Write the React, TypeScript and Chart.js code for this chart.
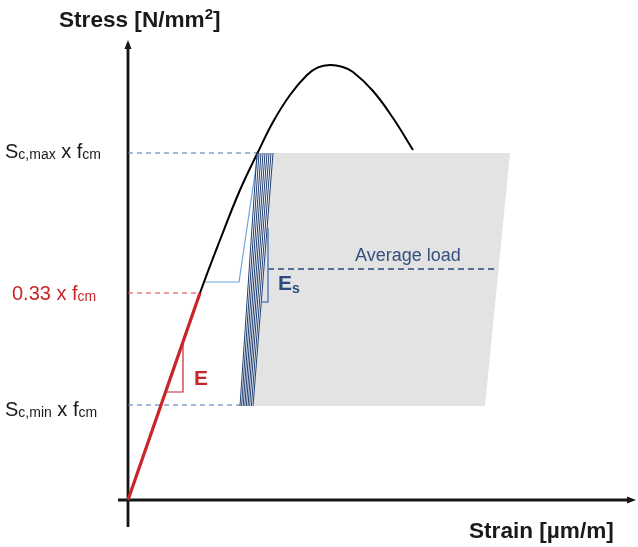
import { useEffect, useRef } from "react";
import { Chart, registerables } from "chart.js";

Chart.register(...registerables);

// Schematic stress–strain curve (strain in µm/m, stress in N/mm²)
const curveStrain = [0, 180, 360, 460, 560, 650, 725, 810, 895, 950, 1010, 1070, 1125, 1225, 1325, 1425];
const curveStress = [0, 10.4, 20.7, 26, 31, 34.8, 37.8, 40.5, 42.5, 43.26, 43.5, 43.32, 42.8, 40.9, 38.2, 35];

// Stress levels of the cyclic test
const sMax = 34.7;
const sMid = 20.7;
const sMin = 9.5;
const avgLoad = 23.1;

// Initial elastic branch (modulus E)
const eLineStrain = [0, 360];
const eLineStress = [0, 20.7];
const eTriStrain = [195, 275, 275];
const eTriStress = [10.8, 10.8, 15.8];

// First load cycle
const firstLoadStrain = [385, 555, 650];
const firstLoadStress = [21.8, 21.8, 34.7];

// Hysteresis loops between the lower and upper stress
const loopBottomStrain = [560, 568, 576, 584, 592, 600, 608, 617, 625];
const loopTopStrain = [645, 655, 665, 675, 685, 695, 705, 715, 725];
const loopBottomStress = 9.4;

// Secant modulus bracket (Es)
const esStrain = [670, 700, 700];
const esStress = [19.8, 19.8, 27.2];

// Cyclic region
const boxStrain = [725, 1910, 1785, 625];
const boxStress = [34.7, 34.7, 9.4, 9.4];

// Dashed reference lines
const avgLoadStrain = [700, 1845];
const maxGuideEnd = 650;
const midGuideEnd = 360;
const minGuideEnd = 560;

const FF = '"Liberation Sans", Arial, Helvetica, sans-serif';
const NAVY = "#2b4a7e";
const RED = "#c8262b";

const zip = (xs: number[], ys: number[]) => xs.map((x, i) => ({ x, y: ys[i] }));

type Run = { t: string; font: string; dy?: number };

function drawRuns(ctx: CanvasRenderingContext2D, x: number, y: number, runs: Run[], color: string) {
  let cx = x;
  ctx.fillStyle = color;
  ctx.textBaseline = "alphabetic";
  ctx.textAlign = "left";
  for (const r of runs) {
    ctx.font = r.font;
    ctx.fillText(r.t, cx, y + (r.dy || 0));
    cx += ctx.measureText(r.t).width;
  }
}

const backdropPlugin = {
  id: "backdrop",
  beforeDatasetsDraw(chart: any) {
    const { ctx, scales } = chart;
    const xs = scales.x;
    const ys = scales.y;
    ctx.save();
    // grey cyclic region
    ctx.fillStyle = "#e3e3e3";
    ctx.beginPath();
    boxStrain.forEach((v, i) => {
      const px = xs.getPixelForValue(v);
      const py = ys.getPixelForValue(boxStress[i]);
      if (i === 0) ctx.moveTo(px, py);
      else ctx.lineTo(px, py);
    });
    ctx.closePath();
    ctx.fill();

    // axes with arrow heads
    const x0 = xs.getPixelForValue(0);
    const y0 = ys.getPixelForValue(0);
    const xEnd = xs.getPixelForValue(xs.max);
    const yEnd = ys.getPixelForValue(ys.max);
    ctx.strokeStyle = "#151515";
    ctx.fillStyle = "#151515";
    ctx.lineWidth = 2.8;
    ctx.beginPath();
    ctx.moveTo(x0, y0 + 27);
    ctx.lineTo(x0, yEnd + 6);
    ctx.moveTo(x0 - 10, y0);
    ctx.lineTo(xEnd - 6, y0);
    ctx.stroke();
    ctx.beginPath();
    ctx.moveTo(x0, yEnd);
    ctx.lineTo(x0 - 3.5, yEnd + 9);
    ctx.lineTo(x0 + 3.5, yEnd + 9);
    ctx.closePath();
    ctx.fill();
    ctx.beginPath();
    ctx.moveTo(xEnd, y0);
    ctx.lineTo(xEnd - 9, y0 - 3.5);
    ctx.lineTo(xEnd - 9, y0 + 3.5);
    ctx.closePath();
    ctx.fill();
    ctx.restore();
  },
};

const labelPlugin = {
  id: "labels",
  afterDatasetsDraw(chart: any) {
    const { ctx, scales } = chart;
    const xs = scales.x;
    const ys = scales.y;
    const main = `20px ${FF}`;
    const sub = `14px ${FF}`;
    ctx.save();

    drawRuns(ctx, 59, 27, [
      { t: "Stress [N/mm", font: `bold 22.6px ${FF}` },
      { t: "2", font: `bold 15px ${FF}`, dy: -8 },
      { t: "]", font: `bold 22.6px ${FF}` },
    ], "#1a1a1a");
    drawRuns(ctx, 469, 538, [{ t: "Strain [µm/m]", font: `bold 22.6px ${FF}` }], "#1a1a1a");

    drawRuns(ctx, 5, ys.getPixelForValue(sMax) + 5, [
      { t: "S", font: main },
      { t: "c,max", font: sub, dy: 1 },
      { t: " x f", font: main },
      { t: "cm", font: sub, dy: 1 },
    ], "#1a1a1a");
    drawRuns(ctx, 12, ys.getPixelForValue(sMid) + 7, [
      { t: "0.33 x f", font: main },
      { t: "cm", font: sub, dy: 1 },
    ], RED);
    drawRuns(ctx, 5, ys.getPixelForValue(sMin) + 11, [
      { t: "S", font: main },
      { t: "c,min", font: sub, dy: 1 },
      { t: " x f", font: main },
      { t: "cm", font: sub, dy: 1 },
    ], "#1a1a1a");

    drawRuns(ctx, xs.getPixelForValue(330), ys.getPixelForValue(11.5), [
      { t: "E", font: `bold 21px ${FF}` },
    ], RED);
    drawRuns(ctx, xs.getPixelForValue(750), ys.getPixelForValue(21), [
      { t: "E", font: `bold 21px ${FF}` },
      { t: "s", font: `bold 14px ${FF}`, dy: 3 },
    ], NAVY);
    drawRuns(ctx, xs.getPixelForValue(1135), ys.getPixelForValue(avgLoad) - 8, [
      { t: "Average load", font: `18px ${FF}` },
    ], "#34507f");
    ctx.restore();
  },
};

export default function App() {
  const ref = useRef<HTMLCanvasElement | null>(null);

  useEffect(() => {
    document.body.style.margin = "0";
    const canvas = ref.current;
    if (!canvas) return;

    const seg = (data: { x: number; y: number }[], color: string, width: number, order: number, dash: number[] = []) => ({
      data,
      showLine: true,
      borderColor: color,
      borderWidth: width,
      borderDash: dash,
      pointRadius: 0,
      fill: false,
      clip: false as any,
      order,
    });

    const loopSets = loopBottomStrain.map((b, i) =>
      seg([{ x: b, y: loopBottomStress }, { x: loopTopStrain[i], y: sMax }], "#1f3d70", 1, 4)
    );

    const chart = new Chart(canvas, {
      type: "scatter",
      data: {
        datasets: [
          { ...seg(zip(curveStrain, curveStress), "#000000", 2, 6), tension: 0.4 } as any,
          seg(zip(firstLoadStrain, firstLoadStress), "#6fa2e0", 1.2, 5),
          ...loopSets,
          seg([{ x: 0, y: sMax }, { x: maxGuideEnd, y: sMax }], "#4a74b4", 1.2, 7, [5, 4]),
          seg([{ x: 0, y: sMid }, { x: midGuideEnd, y: sMid }], "#d9413f", 1.2, 7, [5, 4]),
          seg([{ x: 0, y: sMin }, { x: minGuideEnd, y: sMin }], "#4a74b4", 1.2, 7, [5, 4]),
          seg(zip(avgLoadStrain, [avgLoad, avgLoad]), NAVY, 1.5, 7, [6, 4]),
          seg(zip(esStrain, esStress), "#5a7fc0", 1.5, 2),
          seg(zip(eTriStrain, eTriStress), RED, 1.2, 2),
          seg(zip(eLineStrain, eLineStress), RED, 3.2, 1),
        ],
      },
      options: {
        responsive: false,
        animation: false,
        events: [],
        layout: { padding: { left: 128, right: 2, top: 40, bottom: 47 } },
        scales: {
          x: { type: "linear", min: 0, max: 2540, display: false },
          y: { type: "linear", min: 0, max: 46, display: false },
        },
        plugins: {
          legend: { display: false },
          tooltip: { enabled: false },
        },
      },
      plugins: [backdropPlugin, labelPlugin],
    });

    return () => chart.destroy();
  }, []);

  return (
    <div style={{ position: "fixed", left: 0, top: 0, width: 638, height: 547, background: "#fff" }}>
      <canvas ref={ref} width={638} height={547} style={{ display: "block" }} />
    </div>
  );
}
